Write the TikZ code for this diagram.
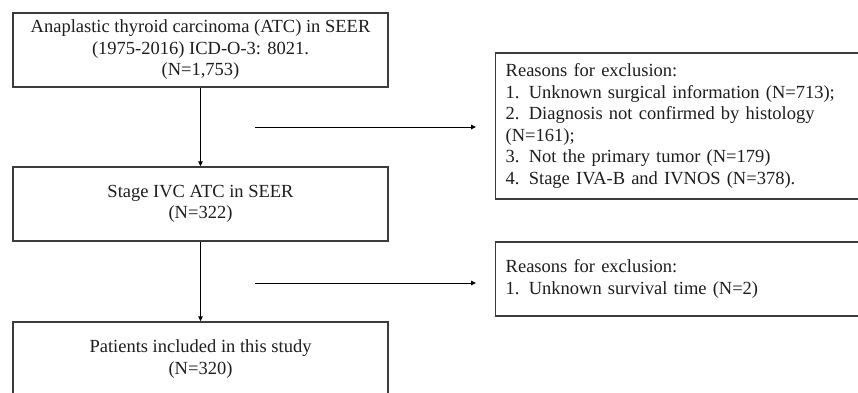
\documentclass[tikz,border=0pt]{standalone}
\usepackage{fontspec}
\setmainfont{Liberation Serif}
\usetikzlibrary{arrows.meta}
\definecolor{boxline}{HTML}{3C3C3C}
\definecolor{txt}{HTML}{1E1E1E}
\begin{document}
\begin{tikzpicture}[x=1pt,y=-1pt,
  box/.style={draw=boxline, line width=1.4pt, fill=white, text=txt,
    font=\fontsize{18.5}{21.5}\selectfont, inner sep=0pt},
  cbox/.style={box, align=center, minimum width=375pt},
  lbox/.style={box, align=left, text width=355pt, inner xsep=10pt, minimum height=74pt},
  arr/.style={draw=black, line width=0.9pt, -{Triangle[length=5pt,width=4.5pt]}}
]
\useasboundingbox (0,0) rectangle (858,392);
\fill[white] (0,0) rectangle (858,392);

\node[cbox, minimum height=74pt] (b1) at (200.5,50)
  {Anaplastic thyroid carcinoma (ATC) in SEER\\(1975-2016) ICD-O-3: 8021.\\(N=1,753)};
\node[cbox, minimum height=74pt] (b2) at (200.5,204)
  {Stage IVC ATC in SEER\\(N=322)};
\node[cbox, minimum height=74pt] (b3) at (200.5,359)
  {Patients included in this study\\(N=320)};

\node[lbox, minimum height=146pt, anchor=west] (e1) at (495,126)
  {Reasons for exclusion:\\1. Unknown surgical information (N=713);\\2. Diagnosis not confirmed by histology\\(N=161);\\3. Not the primary tumor (N=179)\\4. Stage IVA-B and IVNOS (N=378).};
\node[lbox, minimum height=74pt, anchor=west] (e2) at (495,279)
  {Reasons for exclusion:\\1. Unknown survival time (N=2)};

\coordinate (s1) at (255,127);
\coordinate (t1) at (476,127);
\coordinate (s2) at (255,283);
\coordinate (t2) at (476,283);

\draw[arr] (b1.south) -- (b2.north);
\draw[arr] (b2.south) -- (b3.north);
\draw[arr] (s1) -- (t1);
\draw[arr] (s2) -- (t2);
\end{tikzpicture}
\end{document}
